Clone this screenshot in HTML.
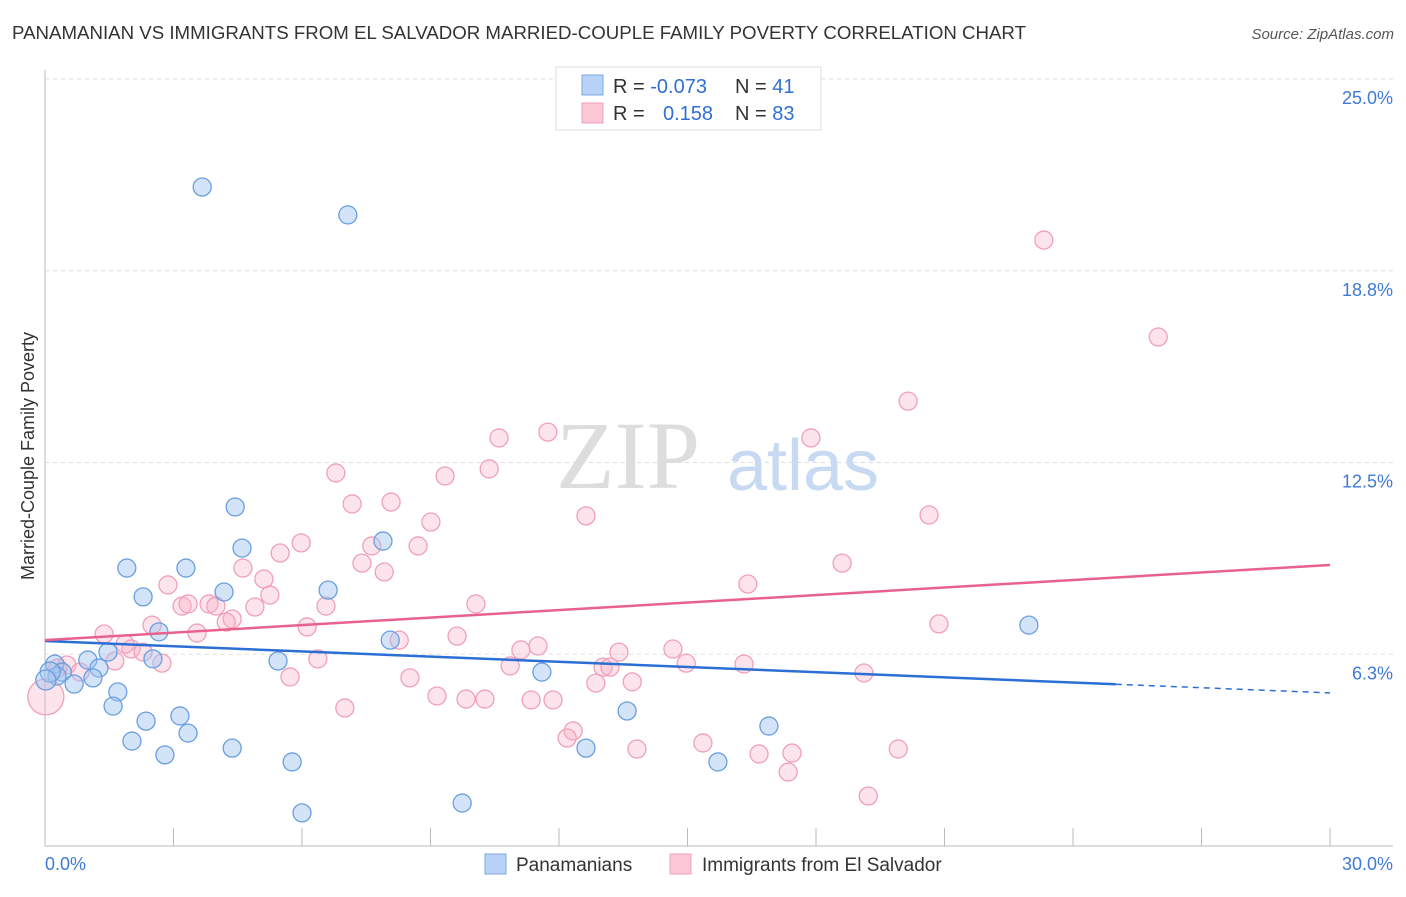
<!DOCTYPE html>
<html><head><meta charset="utf-8"><style>
body{margin:0;background:#fff;font-family:"Liberation Sans",sans-serif}
</style></head><body>
<svg width="1406" height="892" xmlns="http://www.w3.org/2000/svg" font-family="Liberation Sans, sans-serif">
<text x="12" y="39" font-size="18" fill="#333" textLength="1014" lengthAdjust="spacingAndGlyphs">PANAMANIAN VS IMMIGRANTS FROM EL SALVADOR MARRIED-COUPLE FAMILY POVERTY CORRELATION CHART</text>
<text x="1394" y="39" font-size="15" fill="#555" font-style="italic" text-anchor="end">Source: ZipAtlas.com</text>
<g id="grid"></g>
<text x="628" y="488" font-size="96" fill="#ddd" font-family="Liberation Serif, serif" text-anchor="middle">ZIP</text>
<text x="803" y="490" font-size="72" fill="#c8daf2" text-anchor="middle">atlas</text>
<g id="pts"></g>
<g id="lines"></g>
<text transform="translate(34,456) rotate(-90)" font-size="18" fill="#333" text-anchor="middle">Married-Couple Family Poverty</text>
<g>
<rect x="556" y="67" width="265" height="63" fill="#fff" stroke="#ddd"/>
<rect x="582" y="75" width="21" height="20" fill="#b8d3f5" stroke="#7aa8e6"/>
<rect x="582" y="103" width="21" height="20" fill="#fcc8d6" stroke="#f0a0b8"/>
<text x="613" y="93" font-size="20" fill="#333">R = <tspan fill="#3070d0">-0.073</tspan><tspan x="735">N = </tspan><tspan fill="#3070d0">41</tspan></text>
<text x="613" y="120" font-size="20" fill="#333">R = <tspan x="663" fill="#3070d0">0.158</tspan><tspan x="735">N = </tspan><tspan fill="#3070d0">83</tspan></text>
</g>
<g>
<rect x="485" y="854" width="21" height="20" fill="#b8d3f5" stroke="#7aa8e6"/>
<text x="516" y="871" font-size="19" fill="#333">Panamanians</text>
<rect x="670" y="854" width="21" height="20" fill="#fcc8d6" stroke="#f0a0b8"/>
<text x="702" y="871" font-size="19" fill="#333">Immigrants from El Salvador</text>
</g>
</svg>
<script>
const yTicks=[25,18.75,12.5,6.25];
const yTickLabels=["25.0%","18.8%","12.5%","6.3%"];
const xLabels=["0.0%","30.0%"];
const blueX=[3.67,7.07,4.44,4.60,1.91,3.29,2.29,4.18,6.61,7.89,2.66,8.06,1.47,2.52,5.44,0.23,1.00,1.26,0.40,0.28,0.68,1.12,1.70,1.59,2.36,3.15,2.03,3.34,2.80,4.37,5.77,6.00,9.74,12.63,13.59,11.60,15.71,16.90,22.97,0.12,0.02];
const blueY=[21.48,20.57,11.05,9.71,9.06,9.06,8.12,8.28,8.34,9.94,6.98,6.71,6.32,6.10,6.03,5.93,6.06,5.80,5.67,5.54,5.28,5.48,5.02,4.56,4.07,4.24,3.42,3.68,2.97,3.19,2.74,1.08,1.40,3.19,4.40,5.67,2.74,3.91,7.20,5.67,5.41];
const pinkX=[23.32,25.99,20.15,17.88,11.74,10.60,10.37,9.34,6.79,8.08,7.17,12.63,20.64,9.01,8.71,7.63,5.98,5.49,7.92,7.40,4.62,18.61,5.11,2.87,16.41,5.25,10.06,3.20,3.34,3.83,3.99,4.90,6.56,4.37,4.23,2.50,6.12,20.87,3.55,1.38,9.62,8.27,1.87,2.01,2.29,11.51,11.11,13.40,14.66,1.63,2.73,6.37,14.97,16.32,10.86,13.03,13.19,19.12,0.51,0.82,0.30,5.72,8.52,12.86,13.71,9.15,9.83,10.27,11.35,11.86,7.00,12.33,12.19,15.36,13.82,16.67,17.44,19.92,17.35,19.22,0.02];
const pinkY=[19.75,16.59,14.50,13.30,13.49,13.30,12.29,12.06,12.16,11.21,11.15,10.76,10.79,10.56,9.78,9.78,9.88,9.55,8.93,9.22,9.06,9.22,8.70,8.51,8.54,8.18,7.89,7.82,7.89,7.89,7.82,7.79,7.82,7.40,7.30,7.20,7.14,7.24,6.94,6.91,6.84,6.71,6.58,6.42,6.32,6.52,6.39,6.32,6.42,6.03,5.96,6.10,5.96,5.93,5.87,5.83,5.83,5.64,5.90,5.67,5.80,5.51,5.48,5.31,5.35,4.89,4.79,4.79,4.76,4.76,4.50,3.75,3.52,3.36,3.16,3.00,3.03,3.16,2.41,1.63,4.86];
const blueTrend=[6.68,4.99], blueSolidEnd=25;
const pinkTrend=[6.71,9.16];
const X0=45,X1=1330,Y0=846,PY=30.68;
const sx=v=>X0+(X1-X0)*v/30, sy=v=>Y0-v*PY;
const NS="http://www.w3.org/2000/svg";
function mk(t,a,p){const e=document.createElementNS(NS,t);for(const k in a)e.setAttribute(k,a[k]);p.appendChild(e);return e;}
const grid=document.getElementById('grid');
mk('line',{x1:X0,y1:70,x2:X0,y2:846,stroke:'#bbb'},grid);
mk('line',{x1:X0,y1:846,x2:1393,y2:846,stroke:'#bbb'},grid);
yTicks.forEach((t,i)=>{
 const l=mk('line',{x1:X0,y1:sy(t),x2:1393,y2:sy(t),stroke:'#ddd','stroke-dasharray':'4,4'},grid);
 
 
 const tx=mk('text',{x:1393,y:sy(t)+25,'font-size':18,fill:'#3d7ad6','text-anchor':'end'},grid);
 tx.textContent=yTickLabels[i];
 
 
});
for(let i=0;i<=10;i++){
 const l=mk('line',{x1:sx(i*3),y1:828,x2:sx(i*3),y2:846,stroke:'#bbb'},grid);
 
 
}
[[0,'start',45],[30,'end',1393]].forEach((d,i)=>{
 const tx=mk('text',{x:d[2],y:870,'font-size':18,fill:'#3d7ad6','text-anchor':d[1]},grid);
 tx.textContent=xLabels[i];
 
 
});
const pts=document.getElementById('pts');
pinkX.forEach((x,i)=>{
 const big=i===pinkX.length-1;
 const c=mk('circle',{cx:sx(x),cy:sy(pinkY[i]),r:big?18:9,fill:'rgba(248,175,198,0.35)',stroke:'#f0a0b8','stroke-width':1.3},pts);
 
 
});
blueX.forEach((x,i)=>{
 const c=mk('circle',{cx:sx(x),cy:sy(blueY[i]),r:i>=blueX.length-2?10:9,fill:'rgba(160,196,240,0.45)',stroke:'#6a9fe0','stroke-width':1.3},pts);
 
 
});
const ln=document.getElementById('lines');
const by=v=>blueTrend[0]+(blueTrend[1]-blueTrend[0])*v/30;
const b1=mk('line',{x1:sx(0),y1:sy(by(0)),x2:sx(blueSolidEnd),y2:sy(by(blueSolidEnd)),stroke:'#2b6fd4','stroke-width':2.5},ln);


const b2=mk('line',{x1:sx(blueSolidEnd),y1:sy(by(blueSolidEnd)),x2:sx(30),y2:sy(by(30)),stroke:'#2b6fd4','stroke-width':1.5,'stroke-dasharray':'6,5'},ln);


const p1=mk('line',{x1:sx(0),y1:sy(pinkTrend[0]),x2:sx(30),y2:sy(pinkTrend[1]),stroke:'#e8608c','stroke-width':2.5},ln);


</script>
</body></html>
